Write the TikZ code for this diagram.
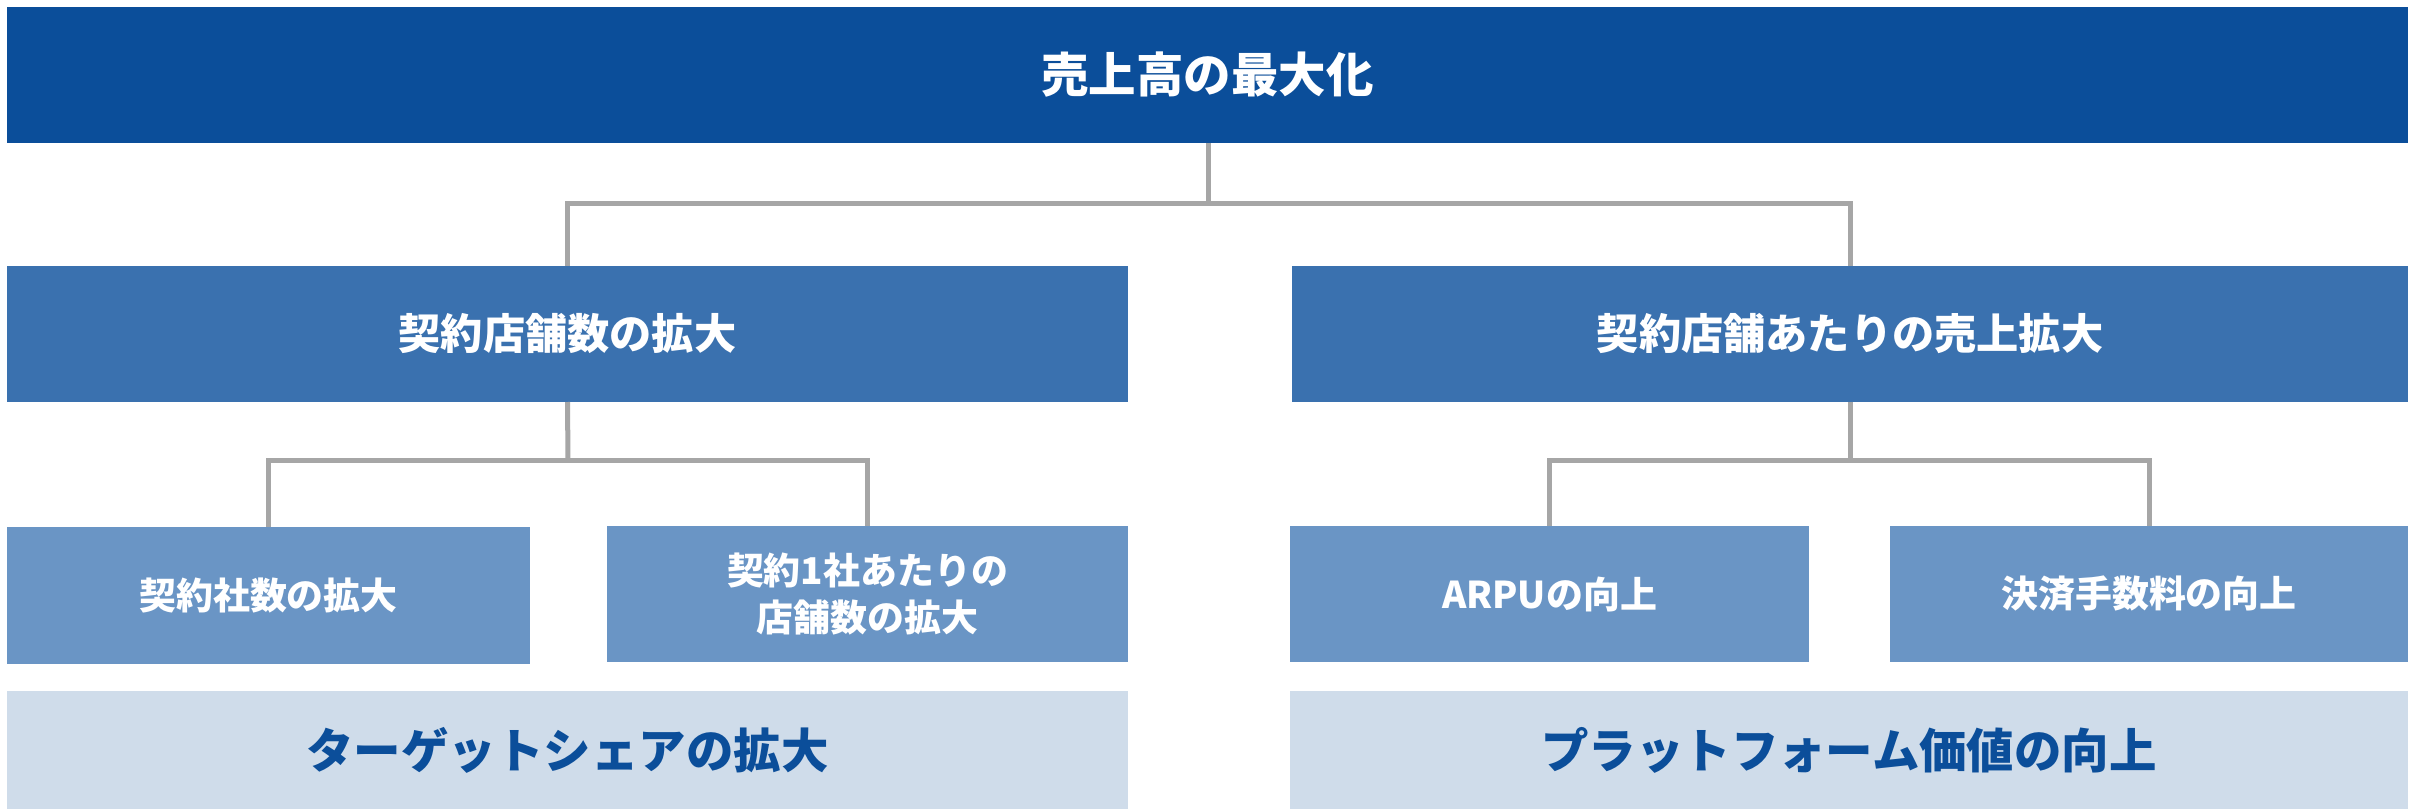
\documentclass[tikz,border=0pt]{standalone}
\usepackage{fontspec}
\setmainfont{Noto Sans CJK JP}
\usetikzlibrary{fit}
\definecolor{cdark}{HTML}{0B4E9A}
\definecolor{cmid}{HTML}{3A71AF}
\definecolor{clight}{HTML}{6A95C5}
\definecolor{cpale}{HTML}{CFDCEA}
\definecolor{cgray}{HTML}{A6A6A6}
\begin{document}
\begin{tikzpicture}[x=0.01cm,y=-0.01cm,
  basebox/.style={inner sep=0pt, outer sep=0pt, draw=none, align=center},
  topbox/.style={basebox, fill=cdark},
  midbox/.style={basebox, fill=cmid},
  lowbox/.style={basebox, fill=clight},
  palebox/.style={basebox, fill=cpale},
  toptext/.style={font=\fontsize{13.5pt}{16pt}\selectfont\bfseries, text=white},
  midtext/.style={font=\fontsize{12pt}{15pt}\selectfont\bfseries, text=white},
  lowtext/.style={font=\fontsize{10.5pt}{13.2pt}\selectfont\bfseries, text=white, align=center},
  paletext/.style={font=\fontsize{13.5pt}{16pt}\selectfont\bfseries, text=cdark},
  conn/.style={draw=cgray, line width=0.05cm, line join=miter}]
\useasboundingbox (0,0) rectangle (2415,809);
\fill[white] (0,0) rectangle (2415,809);
% boxes
\node[topbox, fit={(7,7) (2408,143)}] (top) {};
\node[toptext] (toplbl) at (top.center) {売上高の最大化};
\node[midbox, fit={(7,266) (1128,402)}] (ma) {};
\node[midtext] (malbl) at (ma.center) {契約店舗数の拡大};
\node[midbox, fit={(1292,266) (2408,402)}] (mb) {};
\node[midtext] (mblbl) at (mb.center) {契約店舗あたりの売上拡大};
\node[lowbox, fit={(7,527) (530,664)}] (la) {};
\node[lowtext] (lalbl) at (la.center) {契約社数の拡大};
\node[lowbox, fit={(607,526) (1128,662)}] (lb) {};
\node[lowtext] (lblbl) at (lb.center) {契約1社あたりの\\店舗数の拡大};
\node[lowbox, fit={(1290,526) (1809,662)}] (lc) {};
\node[lowtext] (lclbl) at (lc.center) {ARPUの向上};
\node[lowbox, fit={(1890,526) (2408,662)}] (ld) {};
\node[lowtext] (ldlbl) at (ld.center) {決済手数料の向上};
\node[palebox, fit={(7,691) (1128,809)}] (pa) {};
\node[paletext] (palbl) at (pa.center) {ターゲットシェアの拡大};
\node[palebox, fit={(1290,691) (2408,809)}] (pb) {};
\node[paletext] (pblbl) at (pb.center) {プラットフォーム価値の向上};
% junctions
\coordinate (j0) at (1208,203);
\coordinate (j1) at (568,460);
\coordinate (j2) at (1850,460);
% connectors
\draw[conn] (top.south -| j0) -- (j0);
\draw[conn] (ma.north) |- (j0) -| (mb.north);
\draw[conn] (ma.south) -- (j1);
\draw[conn] (la.north) |- (j1) -| (lb.north);
\draw[conn] (mb.south) -- (j2);
\draw[conn] (lc.north) |- (j2) -| (ld.north);
\end{tikzpicture}
\end{document}
